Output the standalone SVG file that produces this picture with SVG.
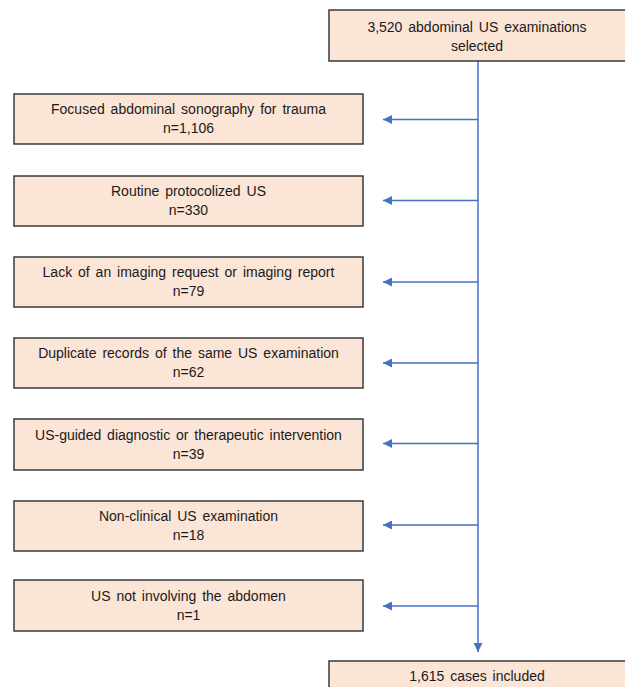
<svg xmlns="http://www.w3.org/2000/svg" width="625" height="687" viewBox="0 0 625 687">
<style>
.box{fill:#FBE5D6;stroke:#3a3a3a;stroke-width:1.5}
.t{font-family:"Liberation Sans",Arial,sans-serif;font-size:14px;word-spacing:2px;fill:#1a1a1a;text-anchor:middle}
.c{stroke:#4472C4;stroke-width:1.5;fill:none}
</style>
<defs>
<marker id="ah2" viewBox="0 0 10 10" refX="10" refY="5" markerWidth="9" markerHeight="9" orient="auto" markerUnits="userSpaceOnUse">
<path d="M0,0 L10,5 L0,10 z" fill="#4472C4"/>
</marker>
</defs>
<g id="connectors">
<path class="c" d="M478,61 V652" marker-end="url(#ah2)"/>
<path class="c" d="M478,119.5 H383" marker-end="url(#ah2)"/>
<path class="c" d="M478,200.5 H383" marker-end="url(#ah2)"/>
<path class="c" d="M478,282 H383" marker-end="url(#ah2)"/>
<path class="c" d="M478,363 H383" marker-end="url(#ah2)"/>
<path class="c" d="M478,443.5 H383" marker-end="url(#ah2)"/>
<path class="c" d="M478,525 H383" marker-end="url(#ah2)"/>
<path class="c" d="M478,606 H383" marker-end="url(#ah2)"/>
</g>
<g id="start">
<rect class="box" x="329" y="10" width="300" height="51"/>
<text class="t" x="477" y="32">3,520 abdominal  US examinations</text>
<text class="t" x="477" y="51">selected</text>
</g>
<g id="ex1">
<rect class="box" x="14" y="94" width="349" height="50"/>
<text class="t" x="188.5" y="114">Focused abdominal sonography for trauma</text>
<text class="t" x="188.5" y="133">n=1,106</text>
</g>
<g id="ex2">
<rect class="box" x="14" y="176" width="349" height="50"/>
<text class="t" x="188.5" y="196">Routine protocolized US</text>
<text class="t" x="188.5" y="215">n=330</text>
</g>
<g id="ex3">
<rect class="box" x="14" y="257" width="349" height="50"/>
<text class="t" x="188.5" y="277">Lack of an imaging request or imaging report</text>
<text class="t" x="188.5" y="296">n=79</text>
</g>
<g id="ex4">
<rect class="box" x="14" y="338" width="349" height="50"/>
<text class="t" x="188.5" y="358">Duplicate records of the same US examination</text>
<text class="t" x="188.5" y="377">n=62</text>
</g>
<g id="ex5">
<rect class="box" x="14" y="419" width="349" height="51"/>
<text class="t" x="188.5" y="440">US-guided diagnostic or therapeutic intervention</text>
<text class="t" x="188.5" y="459">n=39</text>
</g>
<g id="ex6">
<rect class="box" x="14" y="501" width="349" height="50"/>
<text class="t" x="188.5" y="521">Non-clinical US examination</text>
<text class="t" x="188.5" y="540">n=18</text>
</g>
<g id="ex7">
<rect class="box" x="14" y="580" width="349" height="51"/>
<text class="t" x="188.5" y="601">US not involving the abdomen</text>
<text class="t" x="188.5" y="620">n=1</text>
</g>
<g id="end">
<rect class="box" x="329" y="661" width="300" height="40"/>
<text class="t" x="477" y="681">1,615 cases included</text>
</g>
</svg>
